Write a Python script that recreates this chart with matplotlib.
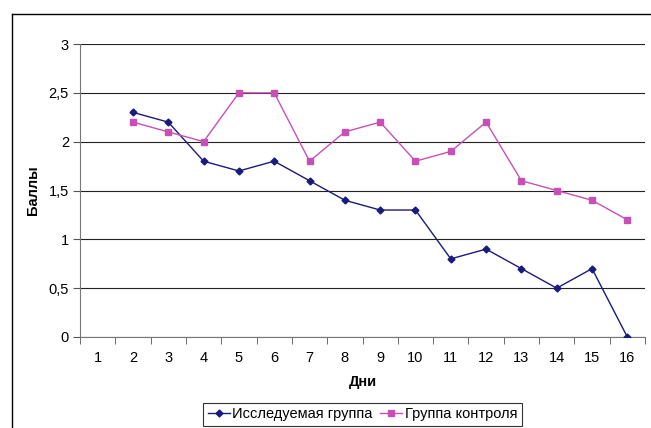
import matplotlib.pyplot as plt
from matplotlib.lines import Line2D

days = list(range(1, 17))
days_study = list(range(2, 17))
study = [2.3, 2.2, 1.8, 1.7, 1.8, 1.6, 1.4, 1.3, 1.3, 0.8, 0.9, 0.7, 0.5, 0.7, 0.0]
control = [2.2, 2.1, 2.0, 2.5, 2.5, 1.8, 2.1, 2.2, 1.8, 1.9, 2.2, 1.6, 1.5, 1.4, 1.2]
y_ticks = [0, 0.5, 1, 1.5, 2, 2.5, 3]

plt.rcParams['font.family'] = ['Liberation Sans', 'DejaVu Sans']

W, H = 651, 428
fig = plt.figure(figsize=(W / 100, H / 100), dpi=100)
ax = fig.add_axes([80 / W, 1 - 337 / H, 565 / W, 293 / H])

navy = '#1a1a7e'
pink = '#c850b4'
ax.plot(days_study, study, color=navy, lw=1, marker='D', ms=3.5, label='Исследуемая группа', zorder=3)
ax.plot(days_study, control, color=pink, lw=1, marker='s', ms=5, label='Группа контроля', zorder=3)

ax.set_xlim(0.5, 16.5)
ax.set_ylim(0, 3)
ax.set_yticks(y_ticks)
ax.set_yticklabels([('%g' % v).replace('.', ',') for v in y_ticks])
ax.set_xticks(days)
ax.set_xticks([d + 0.5 for d in range(0, 17)], minor=True)
ax.tick_params(axis='x', which='major', length=0, pad=10, labelsize=10.5)
ax.tick_params(axis='x', which='minor', length=5, direction='out', color='#555555')
ax.tick_params(axis='y', length=5, direction='out', color='#555555', labelsize=10.5, pad=3)
ax.grid(axis='y', color='#222222', lw=0.8)
ax.set_axisbelow(True)
for s in ['top', 'right']:
    ax.spines[s].set_visible(False)
ax.spines['left'].set_color('#777777')
ax.spines['bottom'].set_color('#777777')

ax.set_xlabel('Дни', fontsize=10.5, fontweight='bold', labelpad=7)
ax.set_ylabel('Баллы', fontsize=10.5, fontweight='bold', labelpad=6)

leg = ax.legend(loc='upper center', bbox_to_anchor=(0.5, -0.225), ncol=2, fontsize=10.5,
                frameon=True, fancybox=False, edgecolor='black', handlelength=1.5,
                handletextpad=0.2, columnspacing=0.5, borderpad=0.3, borderaxespad=0)
leg.get_frame().set_linewidth(0.8)

# outer chart border (cropped on right and bottom)
fig.add_artist(Line2D([12 / W, 12 / W], [0, 1 - 14 / H], color='black', lw=1, transform=fig.transFigure))
fig.add_artist(Line2D([12 / W, 1], [1 - 14 / H, 1 - 14 / H], color='black', lw=1, transform=fig.transFigure))

fig.savefig('out.png', dpi=100)
